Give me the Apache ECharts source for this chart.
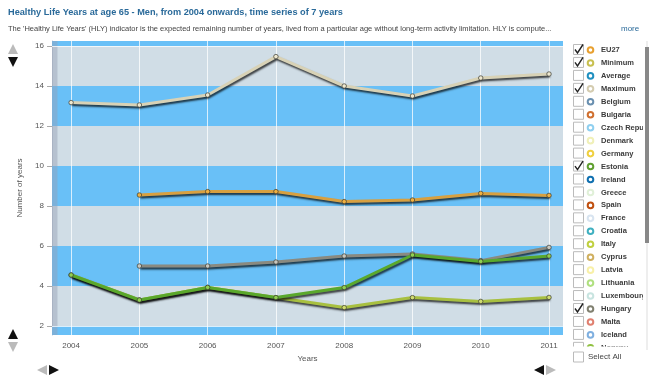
<!DOCTYPE html>
<html><head><meta charset="utf-8">
<script src="https://cdn.jsdelivr.net/npm/echarts@6/dist/echarts.min.js"></script>
<style>html,body{margin:0;padding:0;background:#fff}#c{width:659px;height:386px}</style>
</head><body><div id="c"></div>
<script>
var years = [2004, 2005, 2006, 2007, 2008, 2009, 2010, 2011];
var eu27    = [null, 8.55, 8.72, 8.72, 8.22, 8.3, 8.63, 8.53];
var minimum = [4.55, 3.3, 3.93, 3.42, 2.92, 3.42, 3.23, 3.43];
var maximum = [13.17, 13.05, 13.55, 15.47, 14.0, 13.5, 14.4, 14.6];
var estonia = [4.55, 3.3, 3.93, 3.42, 3.92, 5.55, 5.23, 5.5];
var hungary = [null, 5.0, 5.0, 5.2, 5.5, 5.6, 5.27, 5.93];
var yTicks = [2, 4, 6, 8, 10, 12, 14, 16];
var legendNames = ['EU27','Minimum','Average','Maximum','Belgium','Bulgaria','Czech Republic','Denmark','Germany','Estonia','Ireland','Greece','Spain','France','Croatia','Italy','Cyprus','Latvia','Lithuania','Luxembourg','Hungary','Malta','Iceland','Norway'];
var legendColors = ['#e8a030','#c8c050','#2090c0','#d4ccb0','#6a90b0','#d07030','#90d0f0','#f0f0b8','#f0d040','#60a030','#1070b0','#e0f0d8','#c05010','#d8e4f0','#40b0c0','#c0d040','#d0b060','#f8f0a8','#b0e080','#c8e4e0','#808070','#e08070','#80b0e0','#90c040'];
var legendChecked = [1,1,0,1,0,0,0,0,0,1,0,0,0,0,0,0,0,0,0,0,1,0,0,0];

function pairs(v){ return years.map(function(y,i){ return [y, v[i]]; }); }

var chart = echarts.init(document.getElementById('c'), null, {renderer:'canvas'});
var lightBg = '#d0dde6', blue = '#69c0f7';
function lineSeries(name, data, color, fill, z){
  return {
    name: name, type: 'line', data: pairs(data), z: z,
    connectNulls: false,
    symbol: 'circle', symbolSize: 4.5,
    itemStyle: {color: fill, borderColor: '#3a3a30', borderWidth: 0.7},
    lineStyle: {color: color, width: 3, shadowColor: 'rgba(0,0,0,0.75)', shadowBlur: 2, shadowOffsetY: 2, shadowOffsetX: 1},
    emphasis: {disabled: true}
  };
}

var graphics = [];
graphics.push({type:'text', left: 8, top: 8, style:{text:'Healthy Life Years at age 65 - Men, from 2004 onwards, time series of 7 years', fill:'#2a6a9a', font:'bold 9.2px "Liberation Sans", Arial, sans-serif'}});
graphics.push({type:'text', left: 8, top: 25, style:{text:"The 'Healthy Life Years' (HLY) indicator is the expected remaining number of years, lived from a particular age without long-term activity limitation. HLY is compute...", fill:'#444', font:'7.5px "Liberation Sans", Arial, sans-serif'}});
graphics.push({type:'text', left: 621, top: 25, style:{text:'more', fill:'#2a6a9a', font:'8px "Liberation Sans", Arial, sans-serif'}});
function tri(cx, cy, dir, col){
  var s = 5;
  var pts = dir==='up' ? [[cx-s,cy+s],[cx+s,cy+s],[cx,cy-s]] :
            dir==='down' ? [[cx-s,cy-s],[cx+s,cy-s],[cx,cy+s]] :
            dir==='left' ? [[cx+s,cy-s],[cx+s,cy+s],[cx-s,cy]] : [[cx-s,cy-s],[cx-s,cy+s],[cx+s,cy]];
  graphics.push({type:'polygon', shape:{points:pts}, style:{fill:col}});
}
tri(13, 49, 'up', '#bbb'); tri(13, 62, 'down', '#111');
tri(13, 334, 'up', '#111'); tri(13, 347, 'down', '#bbb');
tri(42, 370, 'left', '#bbb'); tri(54, 370, 'right', '#111');
tri(539, 370, 'left', '#111'); tri(551, 370, 'right', '#bbb');

var rowH = 12.95, y0 = 50;
legendNames.forEach(function(n, i){
  var y = y0 + i*rowH;
  graphics.push({type:'rect', shape:{x:573.5, y:y-5.5, width:10, height:10}, style:{fill:'#fff', stroke:'#bbb', lineWidth:1}});
  if (legendChecked[i]) {
    graphics.push({type:'polyline', shape:{points:[[575,y-0.5],[577.5,y+3],[583,y-5.5]]}, style:{stroke:'#222', lineWidth:1.4, fill:null}});
  }
  graphics.push({type:'circle', shape:{cx:590.5, cy:y, r:2.8}, style:{fill:'#fff', stroke:legendColors[i], lineWidth:2}});
  graphics.push({type:'text', x:601, y:y, style:{text:n, fill:'#3a3a3a', font:'bold 7.5px "Liberation Sans", Arial, sans-serif', verticalAlign:'middle'}});
});
graphics.push({type:'rect', shape:{x:566, y:346.5, width:93, height:40}, style:{fill:'#fff'}});
graphics.push({type:'rect', shape:{x:643, y:40, width:16, height:310}, style:{fill:'#fff'}});
graphics.push({type:'rect', shape:{x:573.5, y:352, width:10, height:10}, style:{fill:'#fff', stroke:'#bbb', lineWidth:1}});
graphics.push({type:'text', x:588, y:357, style:{text:'Select All', fill:'#444', font:'8px "Liberation Sans", Arial, sans-serif', verticalAlign:'middle'}});
graphics.push({type:'rect', shape:{x:646.5, y:41, width:1, height:309}, style:{fill:'#ddd'}});
graphics.push({type:'rect', shape:{x:645, y:47, width:4, height:196}, style:{fill:'#888'}});

var option = {
  animation: false,
  backgroundColor: '#fff',
  textStyle: {fontFamily: '"Liberation Sans", Arial, sans-serif'},
  grid: {left: 52, right: 96, top: 41, bottom: 51, show: true, backgroundColor: lightBg, borderWidth: 0},
  xAxis: {
    type: 'value', min: 2003.72, max: 2011.205,
    name: 'Years', nameLocation: 'middle', nameGap: 20,
    nameTextStyle: {color: '#555', fontSize: 8},
    axisLine: {show: false},
    axisTick: {show: false},
    splitLine: {show: false},
    axisLabel: {customValues: years, color: '#555', fontSize: 8, margin: 7, formatter: function(v){ return String(v); }}
  },
  yAxis: {
    type: 'value', min: 1.55, max: 16.25,
    name: 'Number of years', nameLocation: 'middle', nameGap: 21, nameRotate: 90,
    nameTextStyle: {color: '#555', fontSize: 8},
    axisLine: {show: true, lineStyle: {color: '#b8c4d0'}},
    axisTick: {show: true, customValues: yTicks, length: 5, lineStyle: {color: '#aaa'}},
    splitLine: {show: false},
    axisLabel: {customValues: yTicks, color: '#555', fontSize: 8, margin: 8}
  },
  graphic: graphics,
  series: [
    {
      type: 'line', data: [[2004, null]], z: 1, silent: true, symbol: 'none',
      markArea: {
        silent: true,
        itemStyle: {color: blue},
        data: [
          [{yAxis: 1.55}, {yAxis: 2}],
          [{yAxis: 4}, {yAxis: 6}],
          [{yAxis: 8}, {yAxis: 10}],
          [{yAxis: 12}, {yAxis: 14}],
          [{yAxis: 16}, {yAxis: 16.25}]
        ]
      },
      markLine: {
        silent: true, symbol: 'none', label: {show: false},
        lineStyle: {color: 'rgba(255,255,255,0.75)', width: 1, type: 'solid'},
        data: years.map(function(y){ return {xAxis: y}; }).concat([{yAxis: 2}, {yAxis: 16}])
      }
    },
    {
      type: 'line', data: [[2004, null]], z: 2, silent: true, symbol: 'none',
      markArea: {silent: true, itemStyle: {color: 'rgba(150,160,180,0.45)'}, data: [[{xAxis: 2003.72}, {xAxis: 2003.8}]]}
    },
    lineSeries('Maximum', maximum, '#d8d2b6', '#eee8d0', 5),
    lineSeries('EU27', eu27, '#d8a040', '#f0b040', 5),
    lineSeries('Hungary', hungary, '#8a8a80', '#c8c8c0', 5),
    lineSeries('Minimum', minimum, '#a8c040', '#d0dc70', 6),
    lineSeries('Estonia', estonia, '#5aa82c', '#90d050', 7)
  ]
};
chart.setOption(option);
</script></body></html>
